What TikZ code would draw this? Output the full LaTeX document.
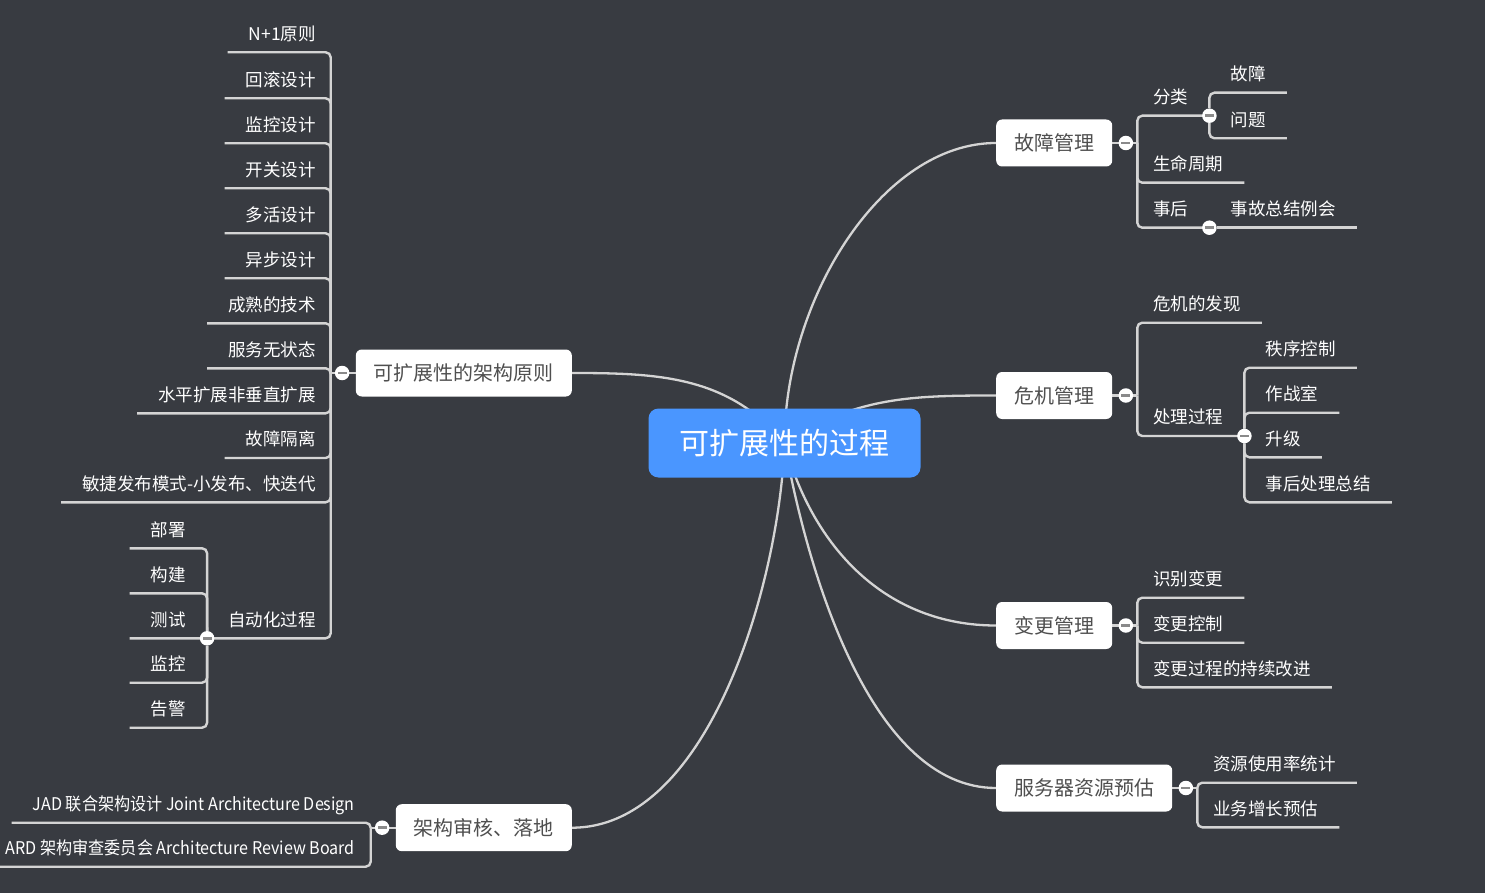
\documentclass[tikz,border=0pt]{standalone}
\usepackage{fontspec}
\setmainfont{Noto Sans CJK SC}
\newfontfamily\narrowfont[FakeStretch=0.92]{Noto Sans CJK SC}
\usetikzlibrary{positioning,calc}
\definecolor{canvas}{HTML}{383B41}
\definecolor{wire}{HTML}{D4D4D4}
\definecolor{rootblue}{HTML}{4A96FF}
\definecolor{topictext}{HTML}{4F4F4F}
\definecolor{knobbar}{HTML}{8A8A8A}
\pgfdeclarelayer{wires}
\pgfsetlayers{wires,main}

\begin{document}
\begin{tikzpicture}[x=1pt,y=1pt,
    every node/.style={inner sep=0pt},
    rootbox/.style={fill=rootblue,rounded corners=10pt,text=white,font=\fontsize{30}{36}\selectfont,minimum width=272pt,minimum height=69pt},
    topic/.style={fill=white,rounded corners=6pt,text=topictext,font=\fontsize{20}{24}\selectfont,minimum height=47pt,inner xsep=18pt},
    leaf/.style={text=white,font=\fontsize{17.5}{21}\selectfont,inner xsep=21pt,inner ysep=0pt,text depth=12pt},
    knob/.style={circle,fill=white,minimum size=14.5pt,path picture={\fill[knobbar] ([shift={(-4.5pt,-1.4pt)}]path picture bounding box.center) rectangle ([shift={(4.5pt,1.4pt)}]path picture bounding box.center);}},
    link/.style={draw=wire,line width=2.3pt},
    branch/.style={draw=wire,line width=2.4pt,rounded corners=5pt}]
  \useasboundingbox (0,0) rectangle (1485,-893);
  \begin{pgfonlayer}{wires}
    \fill[canvas] (0,0) rectangle (1485,-893);
  \end{pgfonlayer}

  % centre and main topics
  \node[rootbox] (root) at (784.5,-443) {可扩展性的过程};
  \node[topic,anchor=west] (gz) at (996,-143) {故障管理};
  \node[topic,anchor=west] (wj) at (996,-395.5) {危机管理};
  \node[topic,anchor=west] (bg) at (996,-625.5) {变更管理};
  \node[topic,anchor=west] (fw) at (996,-788) {服务器资源预估};
  \node[topic,anchor=east] (yz) at (572,-373) {可扩展性的架构原则};
  \node[topic,anchor=east] (jsh) at (572,-827.7) {架构审核、落地};

  \begin{pgfonlayer}{wires}
    \draw[link] (root.center) to[out=90,in=180,in looseness=0.8] (gz.west);
    \draw[link] (root.center) to[out=33,in=180] (wj.west);
    \draw[link] (root.center) to[out=-75,in=180] (bg.west);
    \draw[link] (root.center) to[out=-80,in=180,looseness=0.8] (fw.west);
    \draw[link] (root.center) to[out=130,in=0] (yz.east);
    \draw[link] (root.center) to[out=-92,in=0,looseness=0.8] (jsh.east);
  \end{pgfonlayer}

  % knobs and spines
  \foreach \t in {gz,wj,bg,fw} {
    \node[knob,right=6pt of \t] (k\t) {};
    \coordinate[right=4pt of k\t] (s\t);
    \begin{pgfonlayer}{wires}\draw[branch] (\t.east) -- (s\t);\end{pgfonlayer}
  }
  \foreach \t in {yz,jsh} {
    \node[knob,left=6pt of \t] (k\t) {};
    \coordinate[left=4pt of k\t] (s\t);
    \begin{pgfonlayer}{wires}\draw[branch] (\t.west) -- (s\t);\end{pgfonlayer}
  }

  % 故障管理
  \node[leaf,anchor=south west] (fl) at (1132,-115.7) {分类};
  \node[leaf,anchor=south west] (smzq) at (1132,-182.7) {生命周期};
  \node[leaf,anchor=south west] (sh) at (1132,-227.7) {事后};
  \node[knob] (kfl) at (fl.south east) {};
  \node[knob] (ksh) at (sh.south east) {};
  \node[leaf,anchor=south west] (gzz) at (kfl |- 0,-92.7) {故障};
  \node[leaf,anchor=south west] (wt) at (kfl |- 0,-138.3) {问题};
  \node[leaf,anchor=south west] (sgh) at (ksh) {事故总结例会};
  \begin{pgfonlayer}{wires}
    \draw[branch] (sgz) |- (fl.south east);
    \draw[branch] (sgz) |- (smzq.south east);
    \draw[branch] (sgz) |- (sh.south east);
    \draw[branch] (kfl) |- (gzz.south east);
    \draw[branch] (kfl) |- (wt.south east);
    \draw[branch] (ksh) -- (sgh.south east);
  \end{pgfonlayer}

  % 危机管理
  \node[leaf,anchor=south west] (fx) at (1132,-322.7) {危机的发现};
  \node[leaf,anchor=south west] (clgc) at (1132,-436) {处理过程};
  \node[knob] (kcl) at (clgc.south east) {};
  \begin{pgfonlayer}{wires}
    \draw[branch] (swj) |- (fx.south east);
    \draw[branch] (swj) |- (clgc.south east);
  \end{pgfonlayer}
  \foreach \n/\u/\t in {zx/367.7/秩序控制,zzs/412.7/作战室,sj/457.3/升级,shzj/502.3/事后处理总结} {
    \node[leaf,anchor=south west] (\n) at (kcl |- 0,-\u) {\t};
    \begin{pgfonlayer}{wires}\draw[branch] (kcl) |- (\n.south east);\end{pgfonlayer}
  }

  % 变更管理
  \foreach \n/\u/\t in {sbbg/597.7/识别变更,bgkz/642.7/变更控制,cxgj/687.3/变更过程的持续改进} {
    \node[leaf,anchor=south west] (\n) at (1132,-\u) {\t};
    \begin{pgfonlayer}{wires}\draw[branch] (sbg) |- (\n.south east);\end{pgfonlayer}
  }

  % 服务器资源预估
  \foreach \n/\u/\t in {zytj/782.7/资源使用率统计,ywzz/827.3/业务增长预估} {
    \node[leaf,anchor=south west] (\n) at (1192,-\u) {\t};
    \begin{pgfonlayer}{wires}\draw[branch] (sfw) |- (\n.south east);\end{pgfonlayer}
  }

  % 可扩展性的架构原则
  \foreach \n/\u/\t in {a1/52.3/N+1原则,a2/98.3/回滚设计,a3/143.3/监控设计,a4/188.3/开关设计,
      a5/233.3/多活设计,a6/278.3/异步设计,a7/323.3/成熟的技术,a8/368.3/服务无状态,
      a9/413.3/水平扩展非垂直扩展,a10/458/故障隔离,a11/502.3/敏捷发布模式-小发布、快迭代,a12/638.3/自动化过程} {
    \node[leaf,anchor=south east] (\n) at (337,-\u) {\t};
    \begin{pgfonlayer}{wires}\draw[branch] (syz) |- (\n.south west);\end{pgfonlayer}
  }
  \node[knob] (kzd) at (a12.south west) {};
  \foreach \n/\u/\t in {b1/548.3/部署,b2/593.3/构建,b3/638.3/测试,b4/682.7/监控,b5/727.7/告警} {
    \node[leaf,anchor=south east] (\n) at (kzd |- 0,-\u) {\t};
    \begin{pgfonlayer}{wires}\draw[branch] (kzd) |- (\n.south west);\end{pgfonlayer}
  }

  % 架构审核、落地
  \node[leaf,anchor=south east] (jad) at (376,-822.7) {\narrowfont JAD 联合架构设计 Joint Architecture Design};
  \node[leaf,anchor=south east] (ard) at (376,-866.7) {\narrowfont ARD 架构审查委员会 Architecture Review Board};
  \begin{pgfonlayer}{wires}
    \draw[branch] (sjsh) |- (jad.south west);
    \draw[branch] (sjsh) |- (ard.south west);
  \end{pgfonlayer}
\end{tikzpicture}
\end{document}
